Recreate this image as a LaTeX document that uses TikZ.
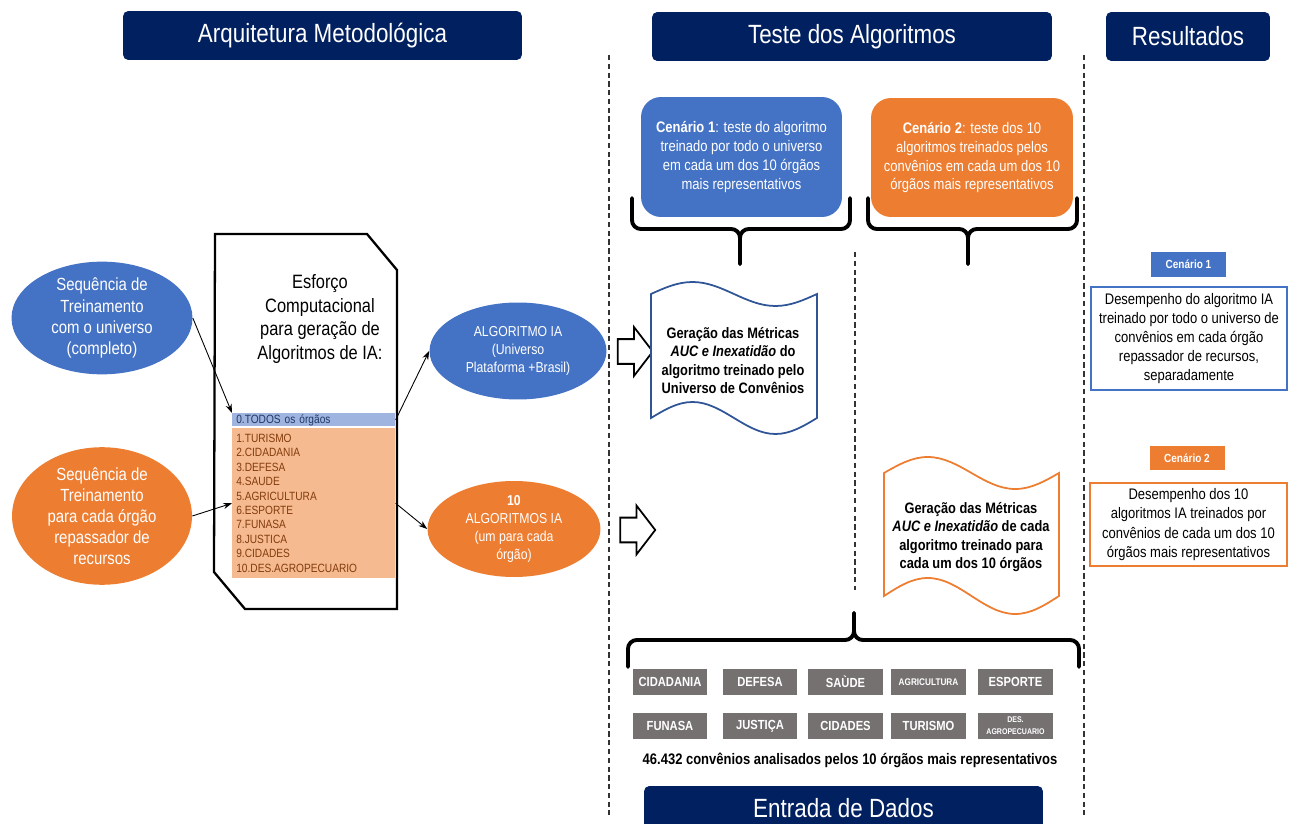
\documentclass[tikz,border=0pt]{standalone}
\usepackage{fontspec}
\setmainfont{Liberation Sans}[FakeStretch=0.85]
\usetikzlibrary{shapes.geometric,shapes.arrows,arrows.meta}
\definecolor{navy}{HTML}{002060}
\definecolor{azul}{HTML}{4472C4}
\definecolor{laranja}{HTML}{ED7D31}
\definecolor{azulclaro}{HTML}{9FB5E0}
\definecolor{laranjaclaro}{HTML}{F5BA90}
\definecolor{marrom}{HTML}{843C0C}
\definecolor{azultexto}{HTML}{203864}
\definecolor{cinza}{HTML}{767171}
\definecolor{azulescuro}{HTML}{2F5597}
\newcommand{\fs}[2]{\fontsize{#1}{#2}\selectfont}
\begin{document}
\begin{tikzpicture}[x=0.02cm,y=-0.02cm,
    header/.style={fill=navy,text=white,rounded corners=3pt,minimum height=0.98cm,font=\fs{15}{18}},
    elipse/.style={ellipse,text=white,align=center,inner sep=0pt},
    cenario/.style={rounded corners=0.4cm,text=white,align=center,font=\fs{8.7}{10.8}},
    orgao/.style={fill=cinza,text=white,minimum width=1.5cm,minimum height=0.52cm,inner sep=0pt,align=center,font=\bfseries\fs{7.5}{9}},
    seta/.style={-{Stealth[length=5pt,width=3.5pt]},line width=0.5pt},
    bloco/.style={single arrow,draw,line width=1pt,fill=white,inner sep=0.23cm,single arrow head extend=0.24cm,single arrow tip angle=105,minimum height=0.7cm},
    chave/.style={line width=2.2pt,rounded corners=5pt,line cap=round},
    doc/.style={line width=1pt,fill=white},
    divisa/.style={dash pattern=on 3pt off 2pt,line width=0.6pt,black!80},
    rotulo/.style={text=white,minimum width=1.5cm,minimum height=0.5cm,inner sep=0pt,font=\bfseries\fs{6.7}{8}},
    resultado/.style={line width=1.2pt,fill=white,align=center,font=\fs{8.7}{10.9}}]
  \useasboundingbox (0,0) rectangle (1296,824);
  \clip (0,0) rectangle (1296,824);
  \draw[divisa] (609,55) -- (609,815);
  \draw[divisa] (1084,55) -- (1084,815);
  \draw[divisa] (855,252) -- (855,590);
  \node[header,minimum width=7.98cm] (hArq) at (322.5,35.5) {Arquitetura Metodológica};
  \node[header,minimum width=8cm] (hTeste) at (852,36.5) {Teste dos Algoritmos};
  \node[header,minimum width=3.28cm] (hRes) at (1188,36.5) {Resultados};
  \node[header,minimum width=7.98cm,minimum height=0.88cm] (hEnt) at (843.5,808) {Entrada de Dados};

  \node[elipse,fill=azul,minimum width=3.62cm,minimum height=2.08cm,font=\fs{10}{12}] (seqUni) at (102,318) {Sequência de\\Treinamento\\com o universo\\(completo)};
  \node[elipse,fill=laranja,minimum width=3.6cm,minimum height=2.42cm,font=\fs{10}{12}] (seqOrg) at (102,516) {Sequência de\\Treinamento\\para cada órgão\\repassador de\\recursos};

  \draw[line width=1.3pt] (215,234) -- (367,234) -- (397,270) -- (397,609) -- (245,609) -- (214,572) -- cycle;
  \node[align=center,font=\fs{11}{13.3}] (esforco) at (320,319) {Esforço\\Computacional\\para geração de\\Algoritmos de IA:};
  \node[fill=azulclaro,anchor=north west,text width=3.1cm,inner xsep=0.08cm,inner ysep=0pt,minimum height=0.26cm,text=azultexto,font=\fs{6.8}{8.2}] (todos) at (232,413) {0.TODOS os órgãos};
  \node[fill=laranjaclaro,anchor=north west,text width=3.1cm,inner xsep=0.08cm,minimum height=2.94cm,text=marrom,align=left,font=\fs{6.8}{8.2}] (lista) at (232,428) {1.TURISMO\\2.CIDADANIA\\3.DEFESA\\4.SAUDE\\5.AGRICULTURA\\6.ESPORTE\\7.FUNASA\\8.JUSTICA\\9.CIDADES\\10.DES.AGROPECUARIO};

  \node[elipse,fill=azul,minimum width=3.54cm,minimum height=1.94cm,font=\fs{8.2}{10.4}] (algUni) at (518,351) {ALGORITMO IA\\(Universo\\Plataforma +Brasil)};
  \node[elipse,fill=laranja,minimum width=3.46cm,minimum height=1.84cm,font=\fs{8.2}{10.4}] (algOrg) at (514,529) {\textbf{10}\\ALGORITMOS IA\\(um para cada\\órgão)};

  \draw[seta] (seqUni.east) -- (todos.north west);
  \draw[seta] (seqOrg.east) -- (lista.west);
  \draw[seta] (todos.east) -- (algUni.west);
  \draw[seta] (lista.east) -- (algOrg.west);

  \node[bloco] (bloco1) at (630.5,351.5) {};
  \node[bloco] (bloco2) at (633,530) {};

  \node[cenario,fill=azul,minimum width=4.02cm,minimum height=2.4cm] (cen1) at (741.5,157) {\textbf{Cenário 1}: teste do algoritmo\\treinado por todo o universo\\em cada um dos 10 órgãos\\mais representativos};
  \node[cenario,fill=laranja,minimum width=4.04cm,minimum height=2.38cm] (cen2) at (972,157.5) {\textbf{Cenário 2}: teste dos 10\\algoritmos treinados pelos\\convênios em cada um dos 10\\órgãos mais representativos};

  \draw[chave] (632,198) |- (740,229) -- (740,264);
  \draw[chave] (850,198) |- (740,229) -- (740,264);
  \draw[chave] (868,198) |- (968,229) -- (968,264);
  \draw[chave] (1077,198) |- (968,229) -- (968,264);

  \draw[doc,draw=azulescuro] (651,294) sin (692.5,282) cos (734,294) sin (775.5,306) cos (817,294) -- (817,418) sin (775.5,434) cos (734,418) sin (692.5,402) cos (651,418) -- cycle;
  \node[align=center,font=\bfseries\fs{8.6}{10.4}] (docUni) at (733,360.5) {Geração das Métricas\\\textit{AUC e Inexatidão} do\\algoritmo treinado pelo\\Universo de Convênios};
  \draw[doc,draw=laranja] (884,473) sin (927.75,457) cos (971.5,473) sin (1015.25,489) cos (1059,473) -- (1059,596) sin (1015.25,614) cos (971.5,596) sin (927.75,578) cos (884,596) -- cycle;
  \node[align=center,font=\bfseries\fs{8.6}{10.5}] (docOrg) at (971,537) {Geração das Métricas\\\textit{AUC e Inexatidão} de cada\\algoritmo treinado para\\cada um dos 10 órgãos};

  \draw[chave] (628,667) |- (854,640) -- (854,613);
  \draw[chave] (1079,667) |- (854,640) -- (854,613);

  \foreach \x/\nome [count=\i] in {670/CIDADANIA, 760/DEFESA, 845.5/SAÙDE, 928.5/{\fs{5.5}{6}AGRICULTURA}, 1015.5/ESPORTE}
    \node[orgao] (a\i) at (\x,682) {\nome};
  \foreach \x/\nome [count=\i] in {670/FUNASA, 760/JUSTIÇA, 845.5/CIDADES, 928.5/TURISMO, 1015.5/{\fs{4.7}{5.2}DES.\\[-2.3pt]\fs{4.7}{5.2}AGROPECUARIO}}
    \node[orgao] (b\i) at (\x,726) {\nome};
  \node[font=\bfseries\fs{8.7}{10}] (total) at (850,760) {46.432 convênios analisados pelos 10 órgãos mais representativos};

  \node[rotulo,fill=azul] (rot1) at (1188.5,264.5) {Cenário 1};
  \node[resultado,draw=azul,minimum width=3.92cm,minimum height=2.02cm] (res1) at (1189,338.5) {Desempenho do algoritmo IA\\treinado por todo o universo de\\convênios em cada órgão\\repassador de recursos,\\separadamente};
  \node[rotulo,fill=laranja] (rot2) at (1187,458) {Cenário 2};
  \node[resultado,draw=laranja,minimum width=3.94cm,minimum height=1.66cm] (res2) at (1188.5,524.5) {Desempenho dos 10\\algoritmos IA treinados por\\convênios de cada um dos 10\\órgãos mais representativos};
\end{tikzpicture}
\end{document}
